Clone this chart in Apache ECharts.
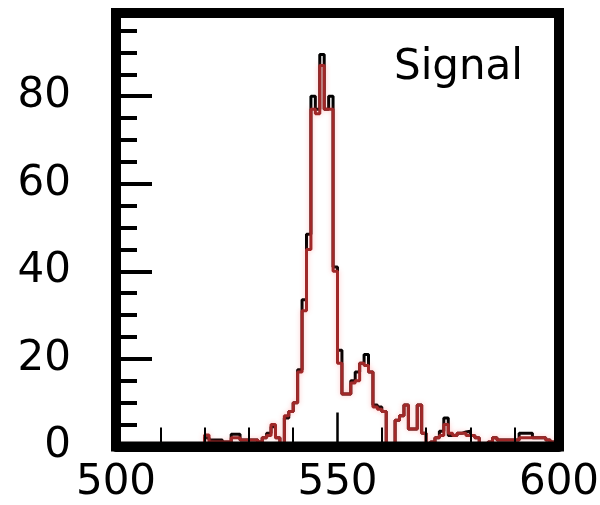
<!DOCTYPE html>
<html>
<head>
<meta charset="utf-8">
<script src="https://cdn.jsdelivr.net/npm/echarts@6/dist/echarts.min.js"></script>
<style>
html,body{margin:0;padding:0;background:#fff;}
#chart{width:600px;height:505px;}
</style>
</head>
<body>
<div id="chart"></div>
<script>
// Histogram: 100 bins of width 1 from 500 to 600 (value = bin content)
var binLow = 500;
var binWidth = 1;
// black histogram (bins 500..599)
var blackCounts = [
  0, 0, 0, 0, 0, 0, 0, 0, 0, 0,          // 500-509
  0, 0, 0, 0, 0.5, 0, 0, 0, 0, 0.5,      // 510-519
  2, 1.5, 1.5, 1.5, 1, 1, 2.8, 2.8, 1.5, 1.5, // 520-529
  1.5, 1.5, 1, 2, 3, 4.5, 2, 0.5, 6.5, 8,  // 530-539
  10, 17.5, 33.5, 48.5, 80, 77, 89.5, 77, 80, 41, // 540-549
  22, 12, 12, 15, 17, 19, 21, 17, 9.5, 9,  // 550-559
  8, 0, 0, 6, 7, 9.5, 4, 4, 9.5, 3,       // 560-569
  0.5, 1, 2, 3.5, 6.5, 2.5, 2.5, 3, 3.3, 3.5, // 570-579
  2.5, 2, 0.5, 0.5, 1, 2, 1.5, 1.5, 1.5, 1.5, // 580-589
  1.5, 3, 3, 3, 2, 2, 2, 1.5, 1, 1        // 590-599
];
// red histogram (bins 500..599)
var redCounts = [
  0, 0, 0, 0, 0, 0, 0, 0, 0, 0,          // 500-509
  0, 0, 0, 0, 0, 0, 0, 0, 0, 0,          // 510-519
  2.6, 1, 1, 1, 1, 1, 2, 2, 1.5, 1.5,     // 520-529
  1.5, 1.5, 1, 2, 2.5, 5, 2, 0.5, 7, 8,   // 530-539
  10, 17, 31, 45, 77, 76, 87, 77, 77, 40, // 540-549
  19, 12, 12, 14.5, 15, 19, 18.5, 17, 9, 8.5, // 550-559
  8, 0, 0, 6, 7, 9.5, 4, 4, 9.5, 3,       // 560-569
  0.5, 1, 2, 2.5, 5, 3, 2.5, 3, 3, 2.5,   // 570-579
  2.5, 2, 0.5, 0.5, 1, 2, 1.5, 1.5, 1.5, 1.5, // 580-589
  1.5, 2, 2, 2, 2, 2, 2, 1.5, 1, 1        // 590-599
];
var xTickLabels = ['500', '550', '600'];
var yTickLabels = ['0', '20', '40', '60', '80'];
var titleText = 'Signal';

function toSteps(counts) {
  var pts = counts.map(function (v, i) { return [binLow + i * binWidth, v]; });
  pts.push([binLow + counts.length * binWidth, counts[counts.length - 1]]);
  return pts;
}

var FONT = 'DejaVu Sans';
var chart = echarts.init(document.getElementById('chart'), null, {renderer: 'canvas'});
chart.setOption({
  animation: false,
  backgroundColor: '#fff',
  title: {
    text: titleText, left: 389, top: 42,
    textStyle: {fontFamily: FONT, fontSize: 42, fontWeight: 'normal', color: '#000'}
  },
  grid: {
    left: 116, right: 41, top: 13, bottom: 58.5, z: 10,
    show: true, borderWidth: 10, borderColor: '#000', backgroundColor: 'transparent',
    outerBoundsMode: 'none', containLabel: false
  },
  xAxis: {
    type: 'value', min: 500, max: 600, interval: 50, z: 10,
    axisLine: {show: true, onZero: false, lineStyle: {color: '#000', width: 10}},
    axisTick: {show: true, inside: true, length: 34, lineStyle: {color: '#000', width: 2.5}},
    minorTick: {show: true, splitNumber: 5, length: 19, lineStyle: {color: '#000', width: 2}},
    splitLine: {show: false}, minorSplitLine: {show: false},
    axisLabel: {
      margin: 16, fontFamily: FONT, fontSize: 42, color: '#000',
      formatter: function (v) { var s = String(v); return xTickLabels.indexOf(s) >= 0 ? s : ''; }
    }
  },
  yAxis: [{
    type: 'value', min: 0, max: 99, interval: 20, z: 10,
    axisLine: {show: true, onZero: false, lineStyle: {color: '#000', width: 10}},
    axisTick: {show: true, inside: true, length: 36, lineStyle: {color: '#000', width: 4}},
    splitLine: {show: false},
    axisLabel: {
      margin: 45, fontFamily: FONT, fontSize: 42, color: '#000', showMaxLabel: false,
      formatter: function (v) { var s = String(v); return yTickLabels.indexOf(s) >= 0 ? s : ''; }
    }
  }, {
    type: 'value', min: 0, max: 99, interval: 5, position: 'left', z: 10,
    axisLine: {show: false},
    axisTick: {show: true, inside: true, length: 21, lineStyle: {color: '#000', width: 4}},
    splitLine: {show: false},
    axisLabel: {show: false}
  }],
  series: [{
    type: 'line', step: 'end', data: toSteps(blackCounts), yAxisIndex: 0,
    symbol: 'none', lineStyle: {color: '#000', width: 3}, z: 2
  }, {
    type: 'line', step: 'end', data: toSteps(redCounts), yAxisIndex: 0,
    symbol: 'none',
    lineStyle: {color: '#a02828', width: 3, shadowColor: 'rgba(255,80,80,0.35)', shadowBlur: 5},
    z: 3
  }]
});
</script>
</body>
</html>
